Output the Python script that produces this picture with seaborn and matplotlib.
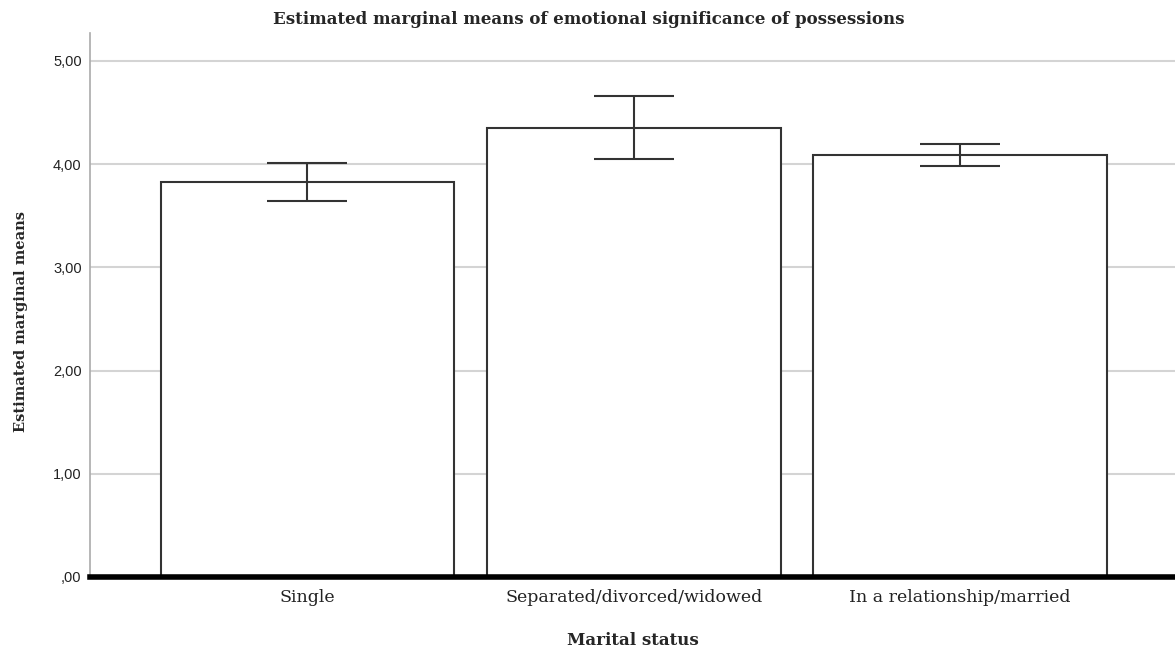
import matplotlib
matplotlib.use("Agg")
import matplotlib.pyplot as plt
import seaborn as sns
import pandas as pd
from matplotlib.ticker import FuncFormatter

categories = ["Single", "Separated/divorced/widowed", "In a relationship/married"]
means = [3.83, 4.35, 4.09]
ci_low = [3.64, 4.05, 3.98]
ci_high = [4.01, 4.66, 4.19]
yticks = [0, 1, 2, 3, 4, 5]

df = pd.DataFrame({"status": categories, "mean": means})

sns.set_theme(style="white")
plt.rcParams["font.family"] = ["Liberation Sans", "DejaVu Sans"]
SERIF = ["DejaVu Serif", "Liberation Serif"]

fig = plt.figure(figsize=(11.75, 6.55), dpi=100)
ax = fig.add_axes([90 / 1175, 1 - 577 / 655, 1 - 90 / 1175, (577 - 33) / 655])

sns.barplot(data=df, x="status", y="mean", order=categories, errorbar=None,
            width=0.9, color="white", edgecolor="#333333", linewidth=1.5,
            ax=ax, zorder=3)

yerr = [[m - l for m, l in zip(means, ci_low)], [h - m for m, h in zip(means, ci_high)]]
ax.errorbar(range(len(categories)), means, yerr=yerr, fmt="none",
            ecolor="#333333", elinewidth=1.5, capsize=29, capthick=1.5, zorder=4)

ax.set_ylim(0, 5.27)
ax.set_xlim(-0.666, 2.658)
ax.set_yticks(yticks)
ax.yaxis.set_major_formatter(FuncFormatter(lambda v, p: ",00" if v == 0 else f"{int(v)},00"))
ax.grid(axis="y", color="#d4d4d4", linewidth=1.5, zorder=0)
ax.set_axisbelow(True)

for s in ["top", "right"]:
    ax.spines[s].set_visible(False)
ax.spines["left"].set_color("#aaaaaa")
ax.spines["left"].set_linewidth(1.2)
ax.spines["bottom"].set_color("black")
ax.spines["bottom"].set_linewidth(4)
ax.spines["bottom"].set_zorder(5)

ax.tick_params(axis="y", length=0, pad=6, labelsize=10.5, labelcolor="#222222")
ax.tick_params(axis="x", length=0, pad=8.5)
for lab in ax.get_xticklabels():
    lab.set_fontfamily(SERIF)
    lab.set_fontsize(12.5)
    lab.set_color("#222222")

ax.set_xlabel("Marital status", fontfamily=SERIF,
              fontsize=12, fontweight="bold", labelpad=19)
ax.set_ylabel("Estimated marginal means", fontfamily=SERIF,
              fontsize=10.5, fontweight="bold")
ax.yaxis.set_label_coords((28 - 90) / 1085, (577 - 321) / 544)
fig.text(589 / 1175, 1 - 19 / 655,
         "Estimated marginal means of emotional significance of possessions",
         ha="center", va="center", fontfamily=SERIF,
         fontsize=12, fontweight="bold")

fig.savefig("out.png", dpi=100, facecolor="white")
